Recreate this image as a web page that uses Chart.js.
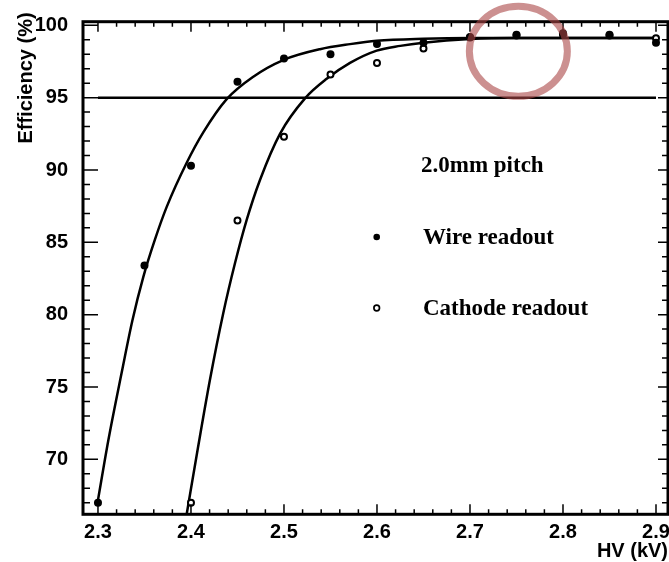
<!DOCTYPE html>
<html>
<head>
<meta charset="utf-8">
<script src="https://cdn.jsdelivr.net/npm/chart.js@4/dist/chart.umd.min.js"></script>
<style>
  html, body { margin: 0; padding: 0; background: #fff; }
  canvas { display: block; }
</style>
</head>
<body>
<canvas id="effChart" width="669" height="562"></canvas>
<script>
// measured points
const hvWire = [2.30, 2.35, 2.40, 2.45, 2.50, 2.55, 2.60, 2.65, 2.70, 2.75, 2.80, 2.85, 2.90];
const effWire = [67.0, 83.4, 90.3, 96.1, 97.7, 98.0, 98.7, 98.8, 99.2, 99.35, 99.45, 99.35, 98.8];
const hvCathode = [2.40, 2.45, 2.50, 2.55, 2.60, 2.65, 2.70, 2.75, 2.80, 2.85, 2.90];
const effCathode = [67.0, 86.5, 92.3, 96.6, 97.4, 98.4, 99.15, 99.3, 99.35, 99.3, 99.1];

// fitted curves
const hvWireFit = [2.2997, 2.3111, 2.3255, 2.3370, 2.3487, 2.3613, 2.3739, 2.3954, 2.4132, 2.4384, 2.467, 2.4992, 2.5387, 2.571, 2.5997, 2.65, 2.70, 2.90];
const effWireFit = [67.07, 71.3, 76.0, 79.6, 82.6, 85.2, 87.45, 90.5, 92.6, 94.9, 96.45, 97.6, 98.35, 98.7, 98.93, 99.07, 99.12, 99.12];
const hvCathodeFit = [2.3955, 2.4075, 2.4204, 2.4347, 2.4473, 2.4599, 2.4742, 2.4957, 2.5226, 2.5459, 2.571, 2.5997, 2.625, 2.65, 2.70, 2.75, 2.90];
const effCathodeFit = [66.25, 70.8, 75.5, 80.1, 83.55, 86.55, 89.31, 92.5, 94.95, 96.3, 97.4, 98.25, 98.58, 98.8, 99.05, 99.12, 99.12];

// 95% reference line
const hvLevel = [2.30, 2.90];
const effLevel = [95, 95];

const xTicks = [2.3, 2.4, 2.5, 2.6, 2.7, 2.8, 2.9];
const yTicks = [70, 75, 80, 85, 90, 95, 100];

const pts = (xs, ys) => xs.map((v, i) => ({ x: v, y: ys[i] }));

const SANS = '"Liberation Sans", Arial, sans-serif';
const SERIF = '"Liberation Serif", "Times New Roman", serif';

// frame, inward ticks, titles, key and the marker ring
const decor = {
  id: 'decor',
  afterDatasetsDraw(chart) {
    const { ctx, chartArea: a, scales: { x, y } } = chart;
    ctx.save();

    ctx.strokeStyle = '#000';
    ctx.lineWidth = 1.5;
    ctx.beginPath();
    for (let i = 115; i <= 145; i++) {
      const px = x.getPixelForValue(i * 0.02);
      const len = i % 5 === 0 ? 10 : 5;
      ctx.moveTo(px, a.bottom); ctx.lineTo(px, a.bottom - len);
      ctx.moveTo(px, a.top); ctx.lineTo(px, a.top + len);
    }
    for (let v = 67; v <= 100; v++) {
      const py = y.getPixelForValue(v);
      const major = v % 5 === 0;
      ctx.moveTo(a.left, py); ctx.lineTo(a.left + (major ? 15 : 7), py);
      ctx.moveTo(a.right, py); ctx.lineTo(a.right - (major ? 10 : 6), py);
    }
    ctx.stroke();

    ctx.lineWidth = 3;
    ctx.strokeRect(a.left, a.top, a.right - a.left, a.bottom - a.top);

    // axis titles
    ctx.fillStyle = '#000';
    ctx.font = 'bold 20px ' + SANS;
    ctx.textAlign = 'right';
    ctx.textBaseline = 'alphabetic';
    ctx.fillText('HV (kV)', 668, 557);
    ctx.save();
    ctx.translate(31.5, 78);
    ctx.rotate(-Math.PI / 2);
    ctx.textAlign = 'center';
    ctx.fillText('Efficiency (%)', 0, 0);
    ctx.restore();

    // key
    ctx.font = 'bold 23px ' + SERIF;
    ctx.textAlign = 'left';
    ctx.fillText('2.0mm pitch', 421, 171.5);
    ctx.fillText('Wire readout', 423, 243.5);
    ctx.fillText('Cathode readout', 423, 315);
    ctx.beginPath();
    ctx.arc(376.7, 237, 3.3, 0, Math.PI * 2);
    ctx.fill();
    ctx.beginPath();
    ctx.lineWidth = 1.7;
    ctx.arc(376.7, 308, 2.8, 0, Math.PI * 2);
    ctx.stroke();

    // ring around the plateau
    ctx.beginPath();
    ctx.strokeStyle = 'rgba(170, 70, 70, 0.6)';
    ctx.lineWidth = 7;
    ctx.ellipse(x.getPixelForValue(2.752), y.getPixelForValue(98.2), 49, 45, 0, 0, Math.PI * 2);
    ctx.stroke();

    ctx.restore();
  }
};

// keep the plot box where it is, labels may run to the edge
const noPad = s => { s.paddingLeft = 0; s.paddingRight = 0; s.paddingTop = 0; s.paddingBottom = 0; };

new Chart(document.getElementById('effChart'), {
  type: 'scatter',
  data: {
    datasets: [
      {
        label: 'Wire readout',
        data: pts(hvWire, effWire),
        pointRadius: 4,
        pointBackgroundColor: '#000',
        pointBorderColor: '#000',
        pointBorderWidth: 0,
        showLine: false,
        order: 0
      },
      {
        label: 'Cathode readout',
        data: pts(hvCathode, effCathode),
        pointRadius: 3,
        pointBackgroundColor: '#fff',
        pointBorderColor: '#000',
        pointBorderWidth: 2,
        showLine: false,
        order: 0
      },
      {
        data: pts(hvWireFit, effWireFit),
        showLine: true,
        pointRadius: 0,
        borderColor: '#000',
        borderWidth: 2.5,
        cubicInterpolationMode: 'monotone',
        order: 1
      },
      {
        data: pts(hvCathodeFit, effCathodeFit),
        showLine: true,
        pointRadius: 0,
        borderColor: '#000',
        borderWidth: 2.5,
        cubicInterpolationMode: 'monotone',
        order: 1
      },
      {
        data: pts(hvLevel, effLevel),
        showLine: true,
        pointRadius: 0,
        borderColor: '#000',
        borderWidth: 2.5,
        order: 1
      }
    ]
  },
  options: {
    responsive: false,
    animation: false,
    devicePixelRatio: 1,
    layout: { autoPadding: false, padding: { top: 21.7, right: 1, left: 0, bottom: 0 } },
    plugins: { legend: { display: false }, tooltip: { enabled: false } },
    scales: {
      x: {
        type: 'linear',
        min: 2.2839,
        max: 2.9129,
        border: { display: false },
        grid: { display: false, drawTicks: false },
        afterBuildTicks: s => { s.ticks = xTicks.map(v => ({ value: v })); },
        afterFit: s => { s.height = 562 - 514.3; noPad(s); },
        ticks: {
          padding: 6,
          color: '#000',
          font: { family: SANS, size: 20, weight: 'bold' },
          maxRotation: 0,
          callback: v => v.toFixed(1)
        }
      },
      y: {
        min: 66.2,
        max: 100.25,
        border: { display: false },
        grid: { display: false, drawTicks: false },
        afterBuildTicks: s => { s.ticks = yTicks.map(v => ({ value: v })); },
        afterFit: s => { s.width = 83; noPad(s); },
        ticks: {
          padding: 15,
          color: '#000',
          font: { family: SANS, size: 20, weight: 'bold' },
          callback: v => String(v)
        }
      }
    }
  },
  plugins: [decor]
});
</script>
</body>
</html>
